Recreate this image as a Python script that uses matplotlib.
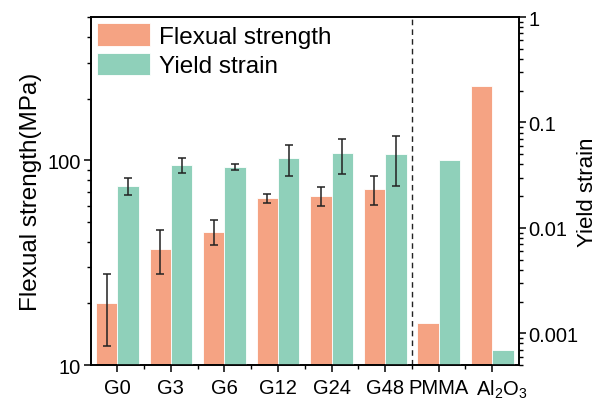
import numpy as np
import matplotlib
matplotlib.use("Agg")
import matplotlib.pyplot as plt  # noqa: E402
import matplotlib.transforms as mtransforms  # noqa: E402
from matplotlib.ticker import FixedLocator, NullFormatter, FuncFormatter, LogLocator  # noqa: E402

plt.rcParams["font.family"] = ["Liberation Sans", "DejaVu Sans"]
plt.rcParams["mathtext.default"] = "regular"

samples = ["G0", "G3", "G6", "G12", "G24", "G48", "PMMA", "Al$_2$O$_3$"]
strength = [20.1, 36.7, 44.7, 65.1, 66.8, 72.1, 16.0, 230.0]       # MPa
strength_err = [7.7, 9.0, 6.3, 3.5, 7.0, 11.7]                       # G0..G48 only
strain = [0.0251, 0.0397, 0.0380, 0.0465, 0.0512, 0.0497, 0.0439, 0.0007]
strain_err = [0.0046, 0.0067, 0.0028, 0.0153, 0.0185, 0.0250]

ORANGE = "#F5A383"
GREEN = "#8FD0BA"
W = 0.4
S_LIM = (10, 500)
E_LIM = (0.0005, 1)

fig = plt.figure(figsize=(6.0, 4.06), dpi=100)
ax = fig.add_axes([0.151, 0.0985, 0.714, 0.857])
ax2 = ax.twinx()

x = np.arange(len(samples))
n_err = len(strength_err)

b1 = ax.bar(x - W / 2, np.array(strength) - S_LIM[0], W, bottom=S_LIM[0],
            color=ORANGE, edgecolor="white", lw=0.6, label="Flexual strength")
ax.errorbar(x[:n_err] - W / 2, strength[:n_err], yerr=strength_err, fmt="none",
            ecolor="#222222", elinewidth=1.1, capsize=2.6, capthick=1.1)
b2 = ax2.bar(x + W / 2, np.array(strain) - E_LIM[0], W, bottom=E_LIM[0],
             color=GREEN, edgecolor="white", lw=0.6, label="Yield strain")
ax2.errorbar(x[:n_err] + W / 2, strain[:n_err], yerr=strain_err, fmt="none",
             ecolor="#222222", elinewidth=1.1, capsize=2.6, capthick=1.1)
ax2.axvline(5.5, color="#222222", lw=1.0, ls=(0, (4, 3)))

ax.set_yscale("log"); ax2.set_yscale("log")
ax.set_ylim(*S_LIM); ax2.set_ylim(*E_LIM)
ax.set_xlim(-0.5, len(samples) - 0.5)

ax.yaxis.set_major_locator(FixedLocator([10, 100]))
ax.yaxis.set_minor_locator(LogLocator(base=10, subs=np.arange(2, 10)))
ax.yaxis.set_major_formatter(FuncFormatter(lambda v, p: f"{v:g}"))
ax.yaxis.set_minor_formatter(NullFormatter())
ax2.yaxis.set_major_locator(FixedLocator([0.001, 0.01, 0.1, 1]))
ax2.yaxis.set_minor_locator(LogLocator(base=10, subs=np.arange(2, 10)))
ax2.yaxis.set_major_formatter(FuncFormatter(lambda v, p: f"{v:g}"))
ax2.yaxis.set_minor_formatter(NullFormatter())

ax.set_xticks(x)
ax.set_xticklabels(samples)
ax.set_xticks(np.arange(len(samples) - 1) + 0.5, minor=True)

for a in (ax, ax2):
    a.tick_params(which="major", length=5, width=1.1, labelsize=14.5, pad=2, direction="out")
    a.tick_params(which="minor", length=3, width=1.0, direction="out")
    for s in a.spines.values():
        s.set_linewidth(1.2)
ax.tick_params(axis="y", which="both", right=False)
ax.tick_params(axis="x", which="major", pad=4)

# last category label sits a bit right of its tick, as in the original
shift = mtransforms.ScaledTranslation(10 / 100, 0, fig.dpi_scale_trans)
lab = ax.get_xticklabels()[-1]
lab.set_transform(lab.get_transform() + shift)

ax.set_ylabel("Flexual strength(MPa)", fontsize=17.5, labelpad=4)
ax2.set_ylabel("Yield strain", fontsize=16, labelpad=-1)

ax2.legend([b1, b2], ["Flexual strength", "Yield strain"], loc="upper left",
           frameon=False, fontsize=17.5, handlelength=2.2, handleheight=1.05,
           handletextpad=0.35, labelspacing=0.2, borderaxespad=0.15, borderpad=0.1)

fig.savefig("out.png", dpi=100)
